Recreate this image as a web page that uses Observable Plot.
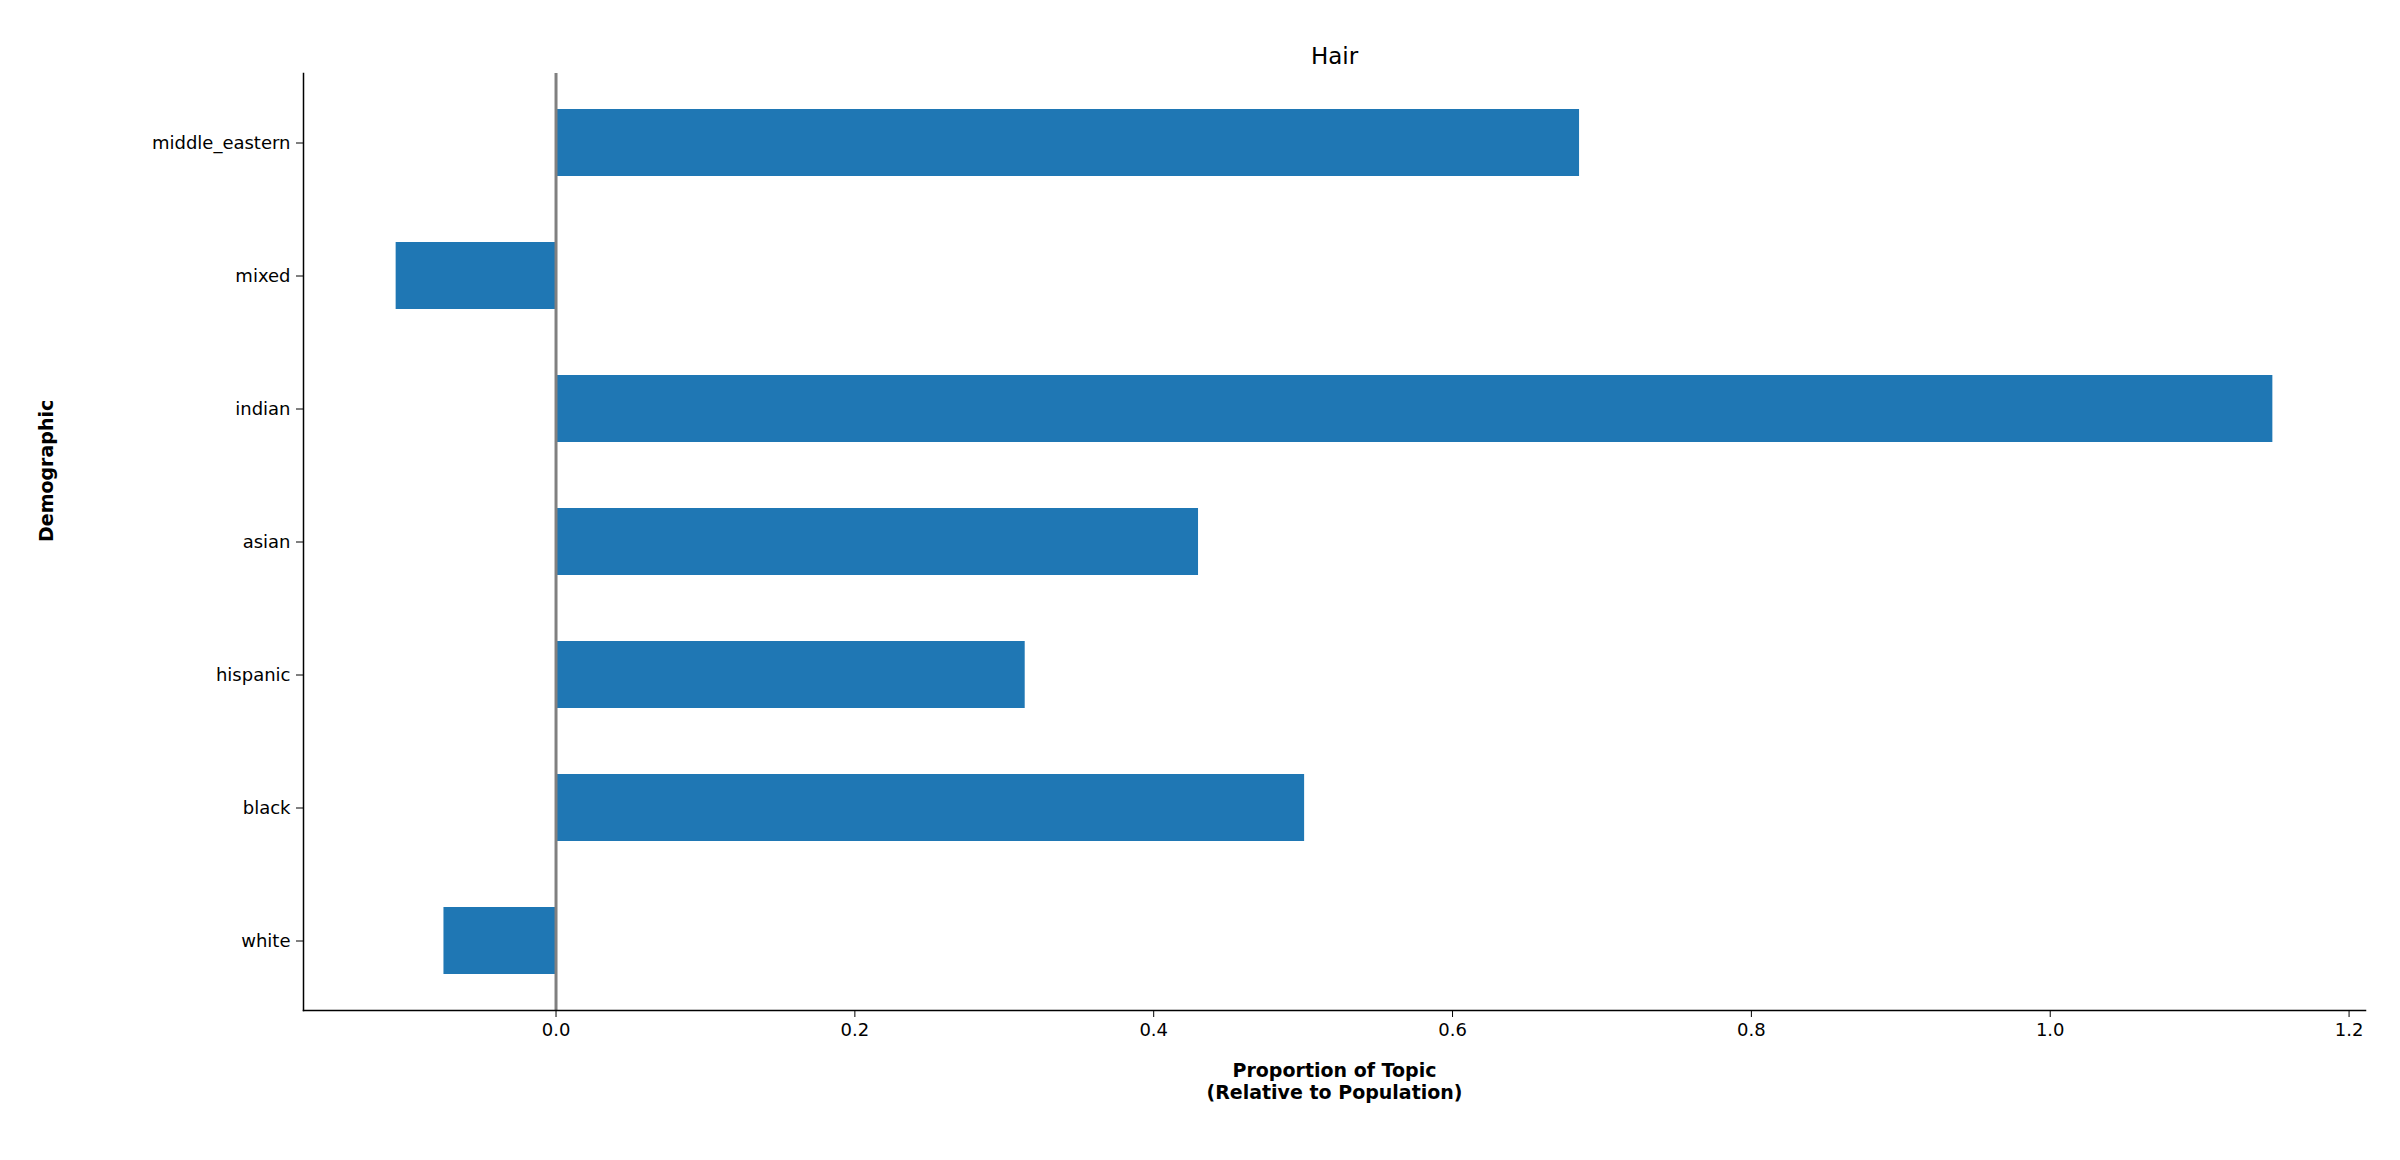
<!DOCTYPE html>
<html>
<head>
<meta charset="utf-8">
<script src="https://cdn.jsdelivr.net/npm/d3@7"></script>
<script src="https://cdn.jsdelivr.net/npm/@observablehq/plot@0.6"></script>
<style>
  body { margin: 0; background: #fff; font-family: "DejaVu Sans", sans-serif; }
</style>
</head>
<body>
<div id="chart"></div>
<script>
const demographics = ["middle_eastern", "mixed", "indian", "asian", "hispanic", "black", "white"];
const proportions = [0.685, -0.107, 1.149, 0.430, 0.314, 0.501, -0.075];
const xTicks = [0.0, 0.2, 0.4, 0.6, 0.8, 1.0, 1.2];

const data = demographics.map((d, i) => ({demographic: d, value: proportions[i]}));

const chart = Plot.plot({
  width: 2400,
  height: 1160,
  marginLeft: 303,
  marginRight: 35,
  marginTop: 73,
  marginBottom: 150,
  style: {fontFamily: "DejaVu Sans, sans-serif", fontSize: "18px", color: "#000"},
  x: {domain: [-0.169, 1.211], ticks: xTicks, tickFormat: d3.format(".1f"), label: null},
  y: {domain: demographics, paddingInner: 0.5, paddingOuter: 0.25, label: null},
  marks: [
    Plot.barX(data, {x: "value", y: "demographic", fill: "#1f77b4"}),
    Plot.ruleX([0], {stroke: "#808080", strokeWidth: 3}),
    Plot.axisX({ticks: xTicks, tickFormat: d3.format(".1f"), tickSize: 7, tickPadding: 6, fontSize: 18, label: null}),
    Plot.axisY({tickSize: 7, tickPadding: 6, fontSize: 18, label: null}),
    Plot.frame({anchor: "left", stroke: "#000", strokeWidth: 1.5}),
    Plot.frame({anchor: "bottom", stroke: "#000", strokeWidth: 1.5}),
    Plot.text(["Hair"], {frameAnchor: "top", dy: -26, fontSize: 23}),
    Plot.text(["Proportion of Topic\n(Relative to Population)"], {frameAnchor: "bottom", dy: 88, fontSize: 19, fontWeight: "bold", lineHeight: 1.15}),
    Plot.text(["Demographic"], {frameAnchor: "left", dx: -257, rotate: -90, fontSize: 19, fontWeight: "bold"})
  ]
});

d3.select("#chart").append(() => chart);
</script>
</body>
</html>
